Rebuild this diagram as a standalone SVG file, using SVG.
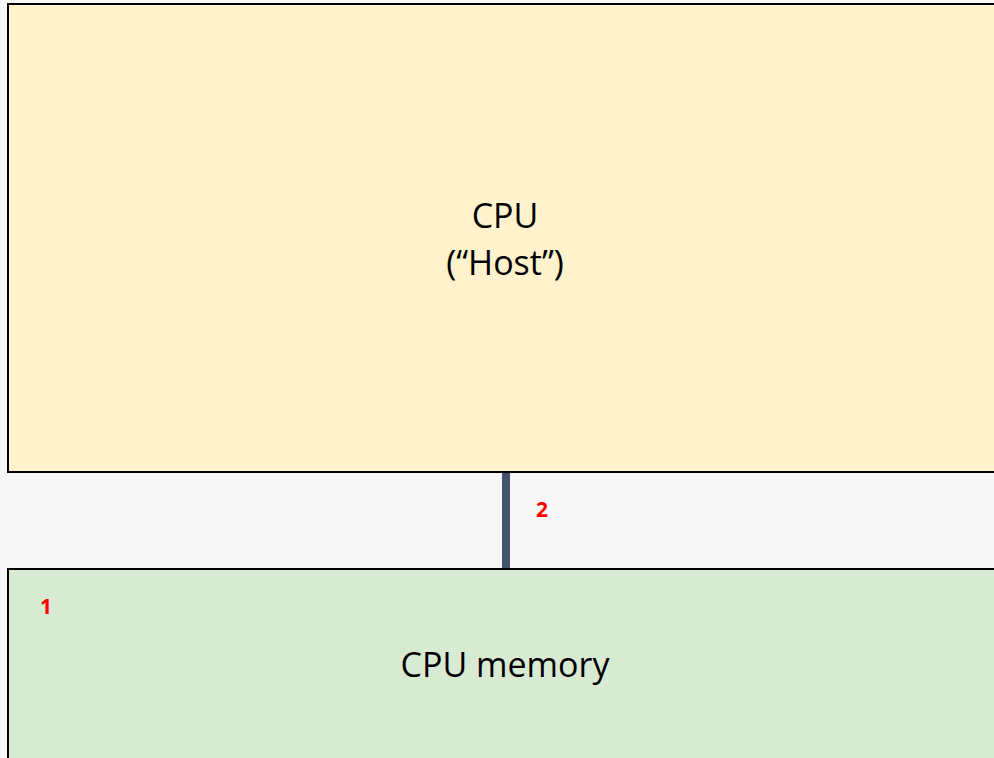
<svg xmlns="http://www.w3.org/2000/svg" width="994" height="758" viewBox="0 0 994 758">
  <style>
    .box { stroke: #000000; stroke-width: 2; }
    .label { font-family: "Open Sans", "Liberation Sans", sans-serif; font-size: 34px; fill: #000000; text-anchor: middle; }
    .num { font-family: "Open Sans", "Liberation Sans", sans-serif; font-size: 21px; font-weight: bold; fill: #FF0000; }
  </style>
  <rect x="0" y="0" width="994" height="758" fill="#F7F7F7"/>
  <g id="connectors">
    <line x1="506" y1="472" x2="506" y2="569" stroke="#44546A" stroke-width="8"/>
  </g>
  <g id="cpu">
    <rect class="box" x="8" y="4" width="1000" height="468" fill="#FFF2CC"/>
    <text class="label" x="505" y="228">CPU</text>
    <text class="label" x="505" y="275">(“Host”)</text>
  </g>
  <g id="cpu-memory">
    <rect class="box" x="8" y="569" width="1000" height="200" fill="#D9EAD3"/>
    <text class="label" x="505" y="677">CPU memory</text>
    <text class="num" x="40" y="614">1</text>
  </g>
  <g id="link-label">
    <text class="num" x="536" y="517">2</text>
  </g>
</svg>
